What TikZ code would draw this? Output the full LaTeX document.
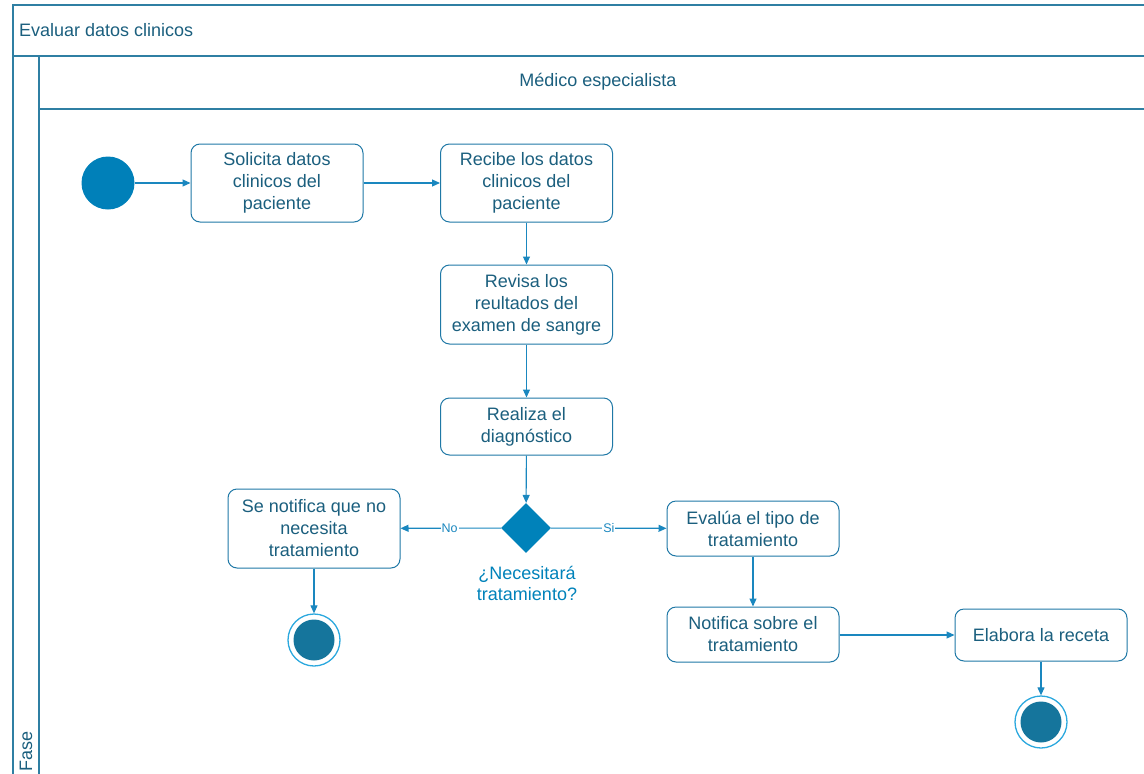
\documentclass[tikz,border=0pt]{standalone}
\usepackage{fontspec}
\setmainfont{Liberation Sans}
\usetikzlibrary{arrows.meta,shapes.geometric}
\definecolor{frameblue}{HTML}{2F7FA3}
\definecolor{textteal}{HTML}{1B5F7E}
\definecolor{nodeblue}{HTML}{1F78A6}
\definecolor{flowblue}{HTML}{1A87BF}
\definecolor{startblue}{HTML}{0080B9}
\definecolor{endfill}{HTML}{15759C}
\definecolor{endring}{HTML}{2BA8DE}
\definecolor{decblue}{HTML}{0082BA}
\tikzset{
  frame/.style={draw=frameblue, line width=1.3pt},
  activity/.style={draw=nodeblue, line width=1pt, rounded corners=9pt, fill=white,
    minimum width=172pt, align=center, text=textteal, font=\fontsize{18}{22}\selectfont,
    inner sep=2pt},
  flow/.style={draw=flowblue, line width=1.1pt, -{Triangle[length=8pt,width=7pt]}},
  guard/.style={fill=white, text=flowblue, font=\fontsize{12.5}{14}\selectfont, inner sep=1pt},
  startnode/.style={circle, fill=startblue, minimum size=53pt, inner sep=0pt},
  endnode/.style={circle, draw=endring, line width=1.3pt, fill=white, minimum size=52pt, inner sep=0pt,
    path picture={\fill[endfill] (path picture bounding box.center) circle (20.5pt);}},
}
\begin{document}
\begin{tikzpicture}[x=1pt, y=-1pt]
\useasboundingbox (0,0) rectangle (1144,774);
% pool and lane frame
\draw[frame] (1150,5) -- (13,5) -- (13,780);
\draw[frame] (13,56) -- (1150,56);
\draw[frame] (39,56) -- (39,780);
\draw[frame] (39,109) -- (1150,109);
\node[text=textteal, font=\fontsize{18}{20}\selectfont, anchor=west, inner sep=0pt] (pooltitle) at (19,30) {Evaluar datos clinicos};
\node[text=textteal, font=\fontsize{18}{20}\selectfont] (lanetitle) at (598,82) {Médico especialista};
\node[text=textteal, font=\fontsize{18}{20}\selectfont, rotate=90, anchor=west, inner sep=0pt] (phase) at (26,772) {Fase};

% activities
\node[startnode] (start) at (108,183) {};
\node[activity, minimum height=78pt] (solicita) at (277,183) {Solicita datos\\clinicos del\\paciente};
\node[activity, minimum height=78pt] (recibe) at (526.5,183) {Recibe los datos\\clinicos del\\paciente};
\node[activity, minimum height=79pt] (revisa) at (526.5,304.5) {Revisa los\\reultados del\\examen de sangre};
\node[activity, minimum height=57pt] (realiza) at (526.5,426.5) {Realiza el\\diagnóstico};
\node[diamond, fill=decblue, minimum width=50pt, minimum height=50pt, inner sep=0pt] (decision) at (526,528) {};
\node[text=decblue, font=\fontsize{18}{21}\selectfont, align=center] (declabel) at (527,583) {¿Necesitará\\tratamiento?};
\node[activity, minimum height=79pt] (nonecesita) at (314,528.5) {Se notifica que no\\necesita\\tratamiento};
\node[endnode] (end1) at (314,640) {};
\node[activity, minimum height=55pt] (evalua) at (753,528.5) {Evalúa el tipo de\\tratamiento};
\node[activity, minimum height=55pt] (notifica) at (753,634.5) {Notifica sobre el\\tratamiento};
\node[activity, minimum height=52pt] (elabora) at (1041,635) {Elabora la receta};
\node[endnode] (end2) at (1041,722) {};

% control flows
\draw[flow] (start) -- (solicita);
\draw[flow] (solicita) -- (recibe);
\draw[flow] (recibe) -- (revisa);
\draw[flow] (revisa) -- (realiza);
\draw[flow] (realiza) -- (decision);
\draw[flow] (decision) -- node[guard, pos=0.51] {No} (nonecesita);
\draw[flow] (decision) -- node[guard, pos=0.5] {Si} (evalua);
\draw[flow] (nonecesita) -- (end1);
\draw[flow] (evalua) -- (notifica);
\draw[flow] (notifica.east |- elabora.west) -- (elabora.west);
\draw[flow] (elabora) -- (end2);
\end{tikzpicture}
\end{document}
